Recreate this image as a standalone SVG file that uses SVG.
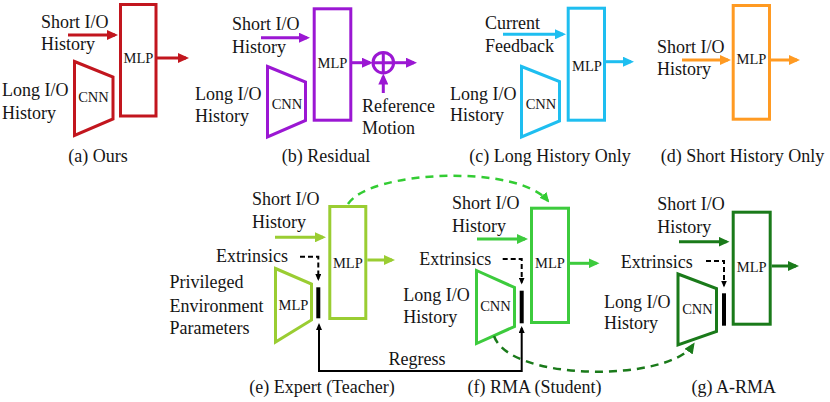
<svg xmlns="http://www.w3.org/2000/svg" width="830" height="402" viewBox="0 0 830 402">
<defs>
<style>
.lbl{font-family:'Liberation Serif','Times New Roman',serif;font-size:18px;fill:#151515}
.mid{text-anchor:middle}
.blk{font-family:'Liberation Serif','Times New Roman',serif;font-size:14.5px;fill:#151515;text-anchor:middle}
.s{fill:none;stroke-width:3}
.bar{stroke:#000;stroke-width:4}
.dsh{fill:none;stroke:#000;stroke-width:2;stroke-dasharray:5 3}
</style>
<marker id="mA" markerUnits="userSpaceOnUse" markerWidth="11" markerHeight="10" viewBox="0 0 11 10" refX="8" refY="5" orient="auto"><path d="M0,0L11,5L0,10z" fill="#C2161E"/></marker>
<marker id="mB" markerUnits="userSpaceOnUse" markerWidth="11" markerHeight="10" viewBox="0 0 11 10" refX="8" refY="5" orient="auto"><path d="M0,0L11,5L0,10z" fill="#9B17D3"/></marker>
<marker id="mC" markerUnits="userSpaceOnUse" markerWidth="11" markerHeight="10" viewBox="0 0 11 10" refX="8" refY="5" orient="auto"><path d="M0,0L11,5L0,10z" fill="#1EBEF0"/></marker>
<marker id="mD" markerUnits="userSpaceOnUse" markerWidth="11" markerHeight="10" viewBox="0 0 11 10" refX="8" refY="5" orient="auto"><path d="M0,0L11,5L0,10z" fill="#FF9A22"/></marker>
<marker id="mE" markerUnits="userSpaceOnUse" markerWidth="11" markerHeight="10" viewBox="0 0 11 10" refX="8" refY="5" orient="auto"><path d="M0,0L11,5L0,10z" fill="#9ACD32"/></marker>
<marker id="mF" markerUnits="userSpaceOnUse" markerWidth="11" markerHeight="10" viewBox="0 0 11 10" refX="8" refY="5" orient="auto"><path d="M0,0L11,5L0,10z" fill="#3DCB3D"/></marker>
<marker id="mG" markerUnits="userSpaceOnUse" markerWidth="11" markerHeight="10" viewBox="0 0 11 10" refX="8" refY="5" orient="auto"><path d="M0,0L11,5L0,10z" fill="#1A7A1A"/></marker>
<marker id="mL" markerUnits="userSpaceOnUse" markerWidth="10" markerHeight="9" viewBox="0 0 10 9" refX="8" refY="4.5" orient="auto"><path d="M0,0L10,4.5L0,9z" fill="#33CC33"/></marker>
<marker id="mK" markerUnits="userSpaceOnUse" markerWidth="7" markerHeight="6" viewBox="0 0 7 6" refX="5" refY="3" orient="auto-start-reverse"><path d="M0,0L7,3L0,6z" fill="#000"/></marker>
</defs>

<!-- (a) Ours -->
<g id="a-labels">
<text class="lbl" x="41" y="28">Short I/O</text><text class="lbl" x="41" y="50">History</text>
<text class="lbl" x="2" y="96">Long I/O</text><text class="lbl" x="2" y="119">History</text>
<text class="lbl mid" x="98" y="162">(a) Ours</text>
</g>
<g id="a-mlp"><rect class="s" stroke="#C2161E" x="120.5" y="4.5" width="35.5" height="111.5"/><text class="blk" x="138.5" y="63">MLP</text></g>
<g id="a-cnn"><polygon class="s" stroke="#C2161E" points="74.5,61.5 113,77 113,119 74.5,135.5"/><text class="blk" x="93.5" y="102">CNN</text></g>

<!-- (b) Residual -->
<g id="b-labels">
<text class="lbl" x="232" y="30">Short I/O</text><text class="lbl" x="232" y="53">History</text>
<text class="lbl" x="195" y="100">Long I/O</text><text class="lbl" x="195" y="122">History</text>
<text class="lbl" x="362" y="112">Reference</text><text class="lbl" x="362" y="134">Motion</text>
<text class="lbl mid" x="326" y="162">(b) Residual</text>
</g>
<g id="b-mlp"><rect class="s" stroke="#9B17D3" x="314.2" y="8.8" width="36.6" height="111.4"/><text class="blk" x="332.5" y="68">MLP</text></g>
<g id="b-cnn"><polygon class="s" stroke="#9B17D3" points="267.5,66.5 305.5,82 305.5,120.5 267.5,137"/><text class="blk" x="287" y="109">CNN</text></g>
<g id="b-sum"><circle class="s" stroke="#9B17D3" cx="383.3" cy="62.7" r="10.3"/><path class="s" stroke="#9B17D3" d="M373,62.7H393.6M383.3,52.4V73"/></g>

<!-- (c) Long History Only -->
<g id="c-labels">
<text class="lbl" x="485" y="29">Current</text><text class="lbl" x="485" y="52">Feedback</text>
<text class="lbl" x="450" y="99.5">Long I/O</text><text class="lbl" x="450" y="121">History</text>
<text class="lbl mid" x="550" y="162">(c) Long History Only</text>
</g>
<g id="c-mlp"><rect class="s" stroke="#1EBEF0" x="568.2" y="8.2" width="36.3" height="112"/><text class="blk" x="587" y="71">MLP</text></g>
<g id="c-cnn"><polygon class="s" stroke="#1EBEF0" points="521.5,66.5 559.5,81.5 559.5,121 521.5,137"/><text class="blk" x="541" y="109">CNN</text></g>

<!-- (d) Short History Only -->
<g id="d-labels">
<text class="lbl" x="657" y="53">Short I/O</text><text class="lbl" x="657" y="75">History</text>
<text class="lbl mid" x="742.5" y="162">(d) Short History Only</text>
</g>
<g id="d-mlp"><rect class="s" stroke="#FF9A22" x="733.2" y="5.5" width="36.3" height="113.7"/><text class="blk" x="751.5" y="64">MLP</text></g>

<!-- (e) Expert (Teacher) -->
<g id="e-labels">
<text class="lbl" x="252" y="205">Short I/O</text><text class="lbl" x="252" y="228">History</text>
<text class="lbl" x="216" y="262">Extrinsics</text>
<text class="lbl" x="169.5" y="288">Privileged</text><text class="lbl" x="169.5" y="311.5">Environment</text><text class="lbl" x="169.5" y="333.5">Parameters</text>
<text class="lbl mid" x="322" y="393">(e) Expert (Teacher)</text>
</g>
<g id="e-mlp"><rect class="s" stroke="#9ACD32" x="329.8" y="206.5" width="36" height="112"/><text class="blk" x="347.8" y="268">MLP</text></g>
<g id="e-enc"><polygon class="s" stroke="#9ACD32" points="275.5,268.5 311.5,284 311.5,320 275.5,342"/><text class="blk" x="293.5" y="310">MLP</text></g>
<g id="e-bar"><line class="bar" x1="318.3" y1="287.3" x2="318.3" y2="318.3"/></g>

<!-- (f) RMA (Student) -->
<g id="f-labels">
<text class="lbl" x="452" y="209">Short I/O</text><text class="lbl" x="452" y="232">History</text>
<text class="lbl" x="419.3" y="265">Extrinsics</text>
<text class="lbl" x="403.3" y="300.7">Long I/O</text><text class="lbl" x="403.3" y="323.3">History</text>
<text class="lbl mid" x="534.5" y="393">(f) RMA (Student)</text>
</g>
<g id="f-mlp"><rect class="s" stroke="#3DCB3D" fill="#C3EFC3" stroke-width="3" x="531.5" y="208.2" width="37" height="114.3"/><text class="blk" x="550" y="268">MLP</text></g>
<g id="f-cnn"><polygon class="s" stroke="#3DCB3D" points="476.5,270.5 514.5,287.5 514.5,326.5 476.5,343.5"/><text class="blk" x="495.5" y="310.7">CNN</text></g>
<g id="f-bar"><line class="bar" x1="521.7" y1="290.7" x2="521.7" y2="323.3"/></g>

<!-- (g) A-RMA -->
<g id="g-labels">
<text class="lbl" x="657.3" y="210">Short I/O</text><text class="lbl" x="657.3" y="233.3">History</text>
<text class="lbl" x="620.7" y="268.3">Extrinsics</text>
<text class="lbl" x="604" y="308">Long I/O</text><text class="lbl" x="604" y="328.5">History</text>
<text class="lbl mid" x="733.7" y="393">(g) A-RMA</text>
</g>
<g id="g-mlp"><rect class="s" stroke="#1A7A1A" x="733.2" y="212.2" width="37" height="112"/><text class="blk" x="751.7" y="271.7">MLP</text></g>
<g id="g-cnn"><polygon class="s" stroke="#1A7A1A" fill="#A9D4A9" points="678,274 716.5,288.5 716.5,331.5 678,345"/><text class="blk" x="697.5" y="314">CNN</text></g>
<g id="g-bar"><line class="bar" x1="724" y1="293.3" x2="724" y2="325.7"/></g>

<!-- connectors -->
<g id="connectors">
<line class="s" stroke="#C2161E" x1="68" y1="35" x2="115" y2="35" marker-end="url(#mA)"/>
<line class="s" stroke="#C2161E" x1="157" y1="58" x2="186" y2="58" marker-end="url(#mA)"/>

<line class="s" stroke="#9B17D3" x1="261" y1="37.7" x2="307" y2="37.7" marker-end="url(#mB)"/>
<line class="s" stroke="#9B17D3" x1="352" y1="62.7" x2="370" y2="62.7" marker-end="url(#mB)"/>
<line class="s" stroke="#9B17D3" x1="394" y1="62.7" x2="414" y2="62.7" marker-end="url(#mB)"/>
<line class="s" stroke="#9B17D3" x1="383.3" y1="93" x2="383.3" y2="76.5" marker-end="url(#mB)"/>

<line class="s" stroke="#1EBEF0" x1="503" y1="34.3" x2="563" y2="34.3" marker-end="url(#mC)"/>
<line class="s" stroke="#1EBEF0" x1="606" y1="61.7" x2="631" y2="61.7" marker-end="url(#mC)"/>

<line class="s" stroke="#FF9A22" x1="682" y1="60" x2="728" y2="60" marker-end="url(#mD)"/>
<line class="s" stroke="#FF9A22" x1="771" y1="60" x2="797" y2="60" marker-end="url(#mD)"/>

<line class="s" stroke="#9ACD32" x1="275" y1="237.3" x2="323" y2="237.3" marker-end="url(#mE)"/>
<line class="s" stroke="#9ACD32" x1="367.3" y1="260" x2="392" y2="260" marker-end="url(#mE)"/>
<path class="dsh" d="M300,256.7H318.3V279" marker-end="url(#mK)"/>

<line class="s" stroke="#3DCB3D" x1="477" y1="239" x2="525" y2="239" marker-end="url(#mF)"/>
<line class="s" stroke="#3DCB3D" x1="570" y1="263.3" x2="596.5" y2="263.3" marker-end="url(#mF)"/>
<path class="dsh" d="M502.7,259H521.7V282.5" marker-end="url(#mK)"/>

<line class="s" stroke="#1A7A1A" x1="679" y1="241.7" x2="726.5" y2="241.7" marker-end="url(#mG)"/>
<line class="s" stroke="#1A7A1A" x1="771.7" y1="266" x2="796" y2="266" marker-end="url(#mG)"/>
<path class="dsh" d="M706,261H724V285.5" marker-end="url(#mK)"/>

<path d="M521.7,328V371H319V325" fill="none" stroke="#000" stroke-width="2" marker-start="url(#mK)" marker-end="url(#mK)"/>
<text class="lbl mid" x="417" y="365">Regress</text>

<path d="M348,204C370,170 518,164 548,201" fill="none" stroke="#33CC33" stroke-width="2.5" stroke-dasharray="8 6" marker-end="url(#mL)"/>
<path d="M494,336C510,382 668,382 693,345" fill="none" stroke="#1A7A1A" stroke-width="2.5" stroke-dasharray="8 6" marker-end="url(#mG)"/>
</g>
</svg>
